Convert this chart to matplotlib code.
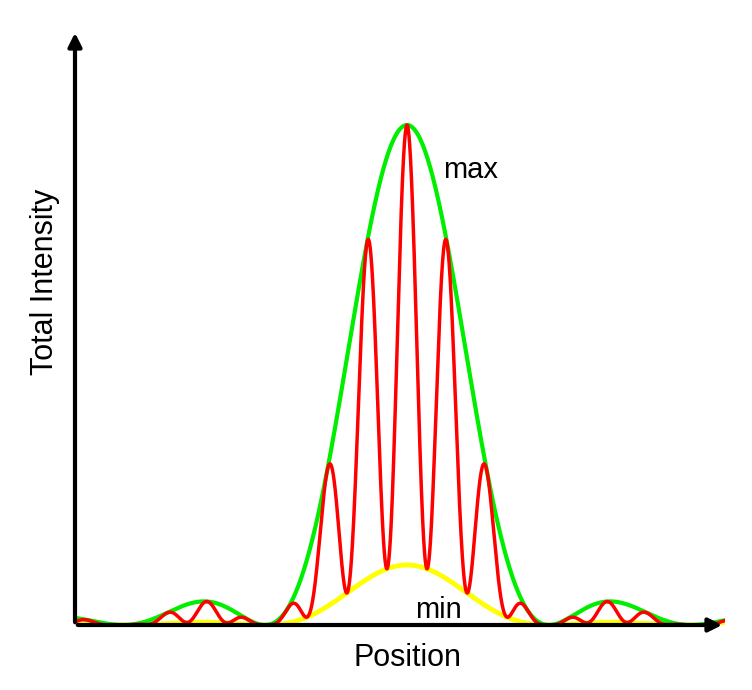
import numpy as np
import matplotlib.pyplot as plt

plt.rcParams['font.family'] = ['Liberation Sans', 'DejaVu Sans']

# values (pixel-like units, centre of pattern at 0)
x_left, x_right = -332, 318      # axis span around the centre
peak_height = 500                # top of the envelope
envelope_zero = 142              # first zero of the single-slit envelope
fringe_spacing = 40              # distance between bright fringes
min_fraction = 0.12              # yellow (min) curve relative to the envelope

x = np.linspace(x_left, x_right, 3000)
envelope = peak_height * np.sinc(x / envelope_zero) ** 2
minimum = min_fraction * envelope
total = envelope * (min_fraction + (1 - min_fraction) * np.cos(np.pi * x / fringe_spacing) ** 2)

fig = plt.figure(figsize=(7.52, 6.9), dpi=100)
ax = fig.add_axes([75 / 752, 65 / 690, 650 / 752, 595 / 690])

ax.plot(x, minimum, color='#ffff00', lw=3.5, zorder=2)
ax.plot(x, envelope, color='#00ee00', lw=3, zorder=3)
ax.plot(x, total, color='#ff0000', lw=2.5, zorder=4)

ax.set_xlim(x_left, x_right)
ax.set_ylim(0, 595)
for s in ax.spines.values():
    s.set_visible(False)
ax.set_xticks([])
ax.set_yticks([])

# arrow axes
ax.annotate('', xy=(x_right, 0), xytext=(x_left, 0),
            arrowprops=dict(arrowstyle='-|>', color='black', lw=3, mutation_scale=20),
            annotation_clip=False, zorder=5)
ax.annotate('', xy=(x_left, 595), xytext=(x_left, 0),
            arrowprops=dict(arrowstyle='-|>', color='black', lw=3, mutation_scale=20),
            annotation_clip=False, zorder=5)

ax.text(36, 455, 'max', fontsize=21, va='center', ha='left')
ax.text(8, 15, 'min', fontsize=21, va='center', ha='left')

fig.text(407 / 752, 32 / 690, 'Position', fontsize=22, ha='center', va='center')
fig.text(45 / 752, 1 - 282 / 690, 'Total Intensity', fontsize=22, ha='center', va='center', rotation=90)

fig.savefig('out.png', dpi=100, facecolor='white')
